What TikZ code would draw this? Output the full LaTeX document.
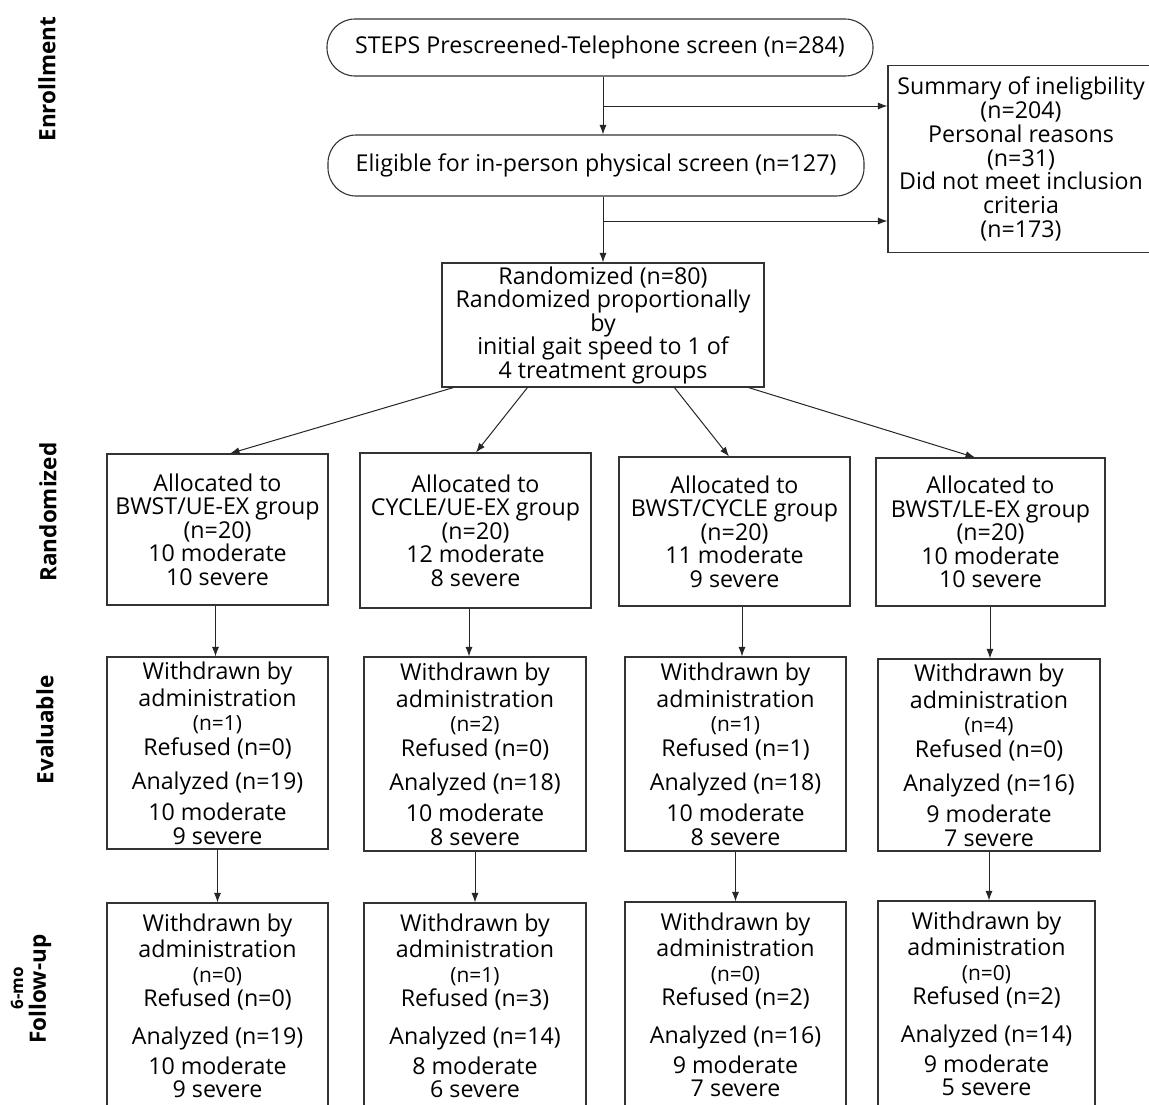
\documentclass[tikz,border=0pt]{standalone}
\usepackage{graphicx}
\usepackage{fontspec}
\setmainfont{Open Sans}
\usetikzlibrary{arrows.meta,calc}
\newcommand{\mainsz}{\fontsize{23.2}{23.5}\selectfont}
\newcommand{\smallnum}[1]{\scalebox{0.9}{(n=#1)}}
\newcommand{\wdtxt}[5]{Withdrawn by\\[3.5pt]administration\\[0.5pt]\smallnum{#1}\\[1.5pt]Refused (n=#2)\\[10.5pt]Analyzed (n=#3)\\[7.5pt]#4 moderate\\[0.5pt]#5 severe}
\newcommand{\futxt}[5]{Withdrawn by\\[2.5pt]administration\\[1.5pt]\smallnum{#1}\\[0.5pt]Refused (n=#2)\\[14.5pt]Analyzed (n=#3)\\[6.5pt]#4 moderate\\[-0.5pt]#5 severe}
\tikzset{
  box/.style={draw=black!80, line width=1.1pt, align=center, inner sep=0pt, font=\mainsz},
  rbox/.style={box, rounded corners=28pt},
  arr/.style={-{Latex[length=9.5pt,width=7pt]}, line width=1pt, draw=black!85},
  side/.style={rotate=90, font=\bfseries\fontsize{22.5}{24}\selectfont},
}
\begin{document}
\begin{tikzpicture}[x=1pt,y=-1pt]
\useasboundingbox (0,0) rectangle (1149,1104);
\fill[white] (0,0) rectangle (1149,1104);
% side labels
\node[side] (lab1) at (47,79) {Enrollment};
\node[side] (lab2) at (48,512) {Randomized};
\node[side] (lab3) at (45,730) {Evaluable};
\node[side] (lab4) at (40,989) {Follow-up};
\node[side, font=\bfseries\fontsize{17}{18}\selectfont] (lab5) at (17,988) {6-mo};
% enrollment
\node[rbox, minimum width=546, minimum height=57] (s1) at (600,47.5) {STEPS Prescreened-Telephone screen (n=284)};
\node[rbox, minimum width=536, minimum height=61] (s2) at (596,165.5) {Eligible for in-person physical screen (n=127)};
\node[box, minimum width=266, minimum height=187, font=\fontsize{23.2}{23.8}\selectfont] (inel) at (1021,159) {Summary of ineligbility\\(n=204)\\Personal reasons\\(n=31)\\Did not meet inclusion\\criteria\\(n=173)};
\node[box, minimum width=322, minimum height=124] (rand) at (603,325) {Randomized (n=80)\\Randomized proportionally\\by\\initial gait speed to 1 of\\4 treatment groups};
% allocation row
\node[box, minimum width=221, minimum height=151] (r1) at (217.5,529.5) {Allocated to\\BWST/UE-EX group\\(n=20)\\10 moderate\\10 severe};
\node[box, minimum width=231, minimum height=155] (r2) at (475.5,530.5) {Allocated to\\CYCLE/UE-EX group\\(n=20)\\12 moderate\\8 severe};
\node[box, minimum width=231, minimum height=149] (r3) at (734.5,531.5) {Allocated to\\BWST/CYCLE group\\(n=20)\\11 moderate\\9 severe};
\node[box, minimum width=229, minimum height=148] (r4) at (990.5,532) {Allocated to\\BWST/LE-EX group\\(n=20)\\10 moderate\\10 severe};
% evaluable row
\node[box, minimum width=221, minimum height=192] (e1) at (217.5,753) {\wdtxt{1}{0}{19}{10}{9}};
\node[box, minimum width=222, minimum height=194] (e2) at (475,754) {\wdtxt{2}{0}{18}{10}{8}};
\node[box, minimum width=221, minimum height=194] (e3) at (735.5,754) {\wdtxt{1}{1}{18}{10}{8}};
\node[box, minimum width=222, minimum height=192] (e4) at (989,755) {\wdtxt{4}{0}{16}{9}{7}};
% follow-up row
\node[box, minimum width=221, minimum height=206] (f1) at (217.5,1006) {\futxt{0}{0}{19}{10}{9}};
\node[box, minimum width=222, minimum height=206] (f2) at (475,1006) {\futxt{1}{3}{14}{8}{6}};
\node[box, minimum width=221, minimum height=206] (f3) at (735.5,1005) {\futxt{0}{2}{16}{9}{7}};
\node[box, minimum width=217, minimum height=206] (f4) at (986.5,1004) {\futxt{0}{2}{14}{9}{5}};
% connectors
\coordinate (t1) at ($(s1.south)+(3,0)$);
\draw[arr] (t1) -- (t1 |- s2.north);
\coordinate (j1) at (603,106);
\coordinate (j2) at (603,221);
\draw[arr] (j1) -- (j1 -| inel.west);
\draw[arr] (j2) -- (j2 -| inel.west);
\draw[arr] (s2.south -| t1) -- (rand.north -| t1);
\draw[arr] ($(rand.south west)+(12,0)$) -- ($(r1.north)+(12.5,0)$);
\draw[arr] ($(rand.south west)+(86,0)$) -- ($(r2.north)+(0.5,0)$);
\draw[arr] ($(rand.south west)+(233,0)$) -- ($(r3.north)+(-5.5,0)$);
\draw[arr] ($(rand.south west)+(307,0)$) -- ($(r4.north)+(-15.5,0)$);
\coordinate (v1) at ($(r1.south)+(-2,0)$);
\coordinate (v2) at ($(r2.south)+(-6.5,0)$);
\coordinate (v3) at ($(r3.south)+(7.5,0)$);
\coordinate (v4) at ($(r4.south)+(-0.5,0)$);
\draw[arr] (v1) -- (v1 |- e1.north);
\draw[arr] (v2) -- (v2 |- e2.north);
\draw[arr] (v3) -- (v3 |- e3.north);
\draw[arr] (v4) -- (v4 |- e4.north);
\draw[arr] (e1.south) -- (e1.south |- f1.north);
\draw[arr] (e2.south) -- (e2.south |- f2.north);
\draw[arr] (e3.south) -- (e3.south |- f3.north);
\draw[arr] (e4.south) -- (e4.south |- f4.north);
\end{tikzpicture}
\end{document}
